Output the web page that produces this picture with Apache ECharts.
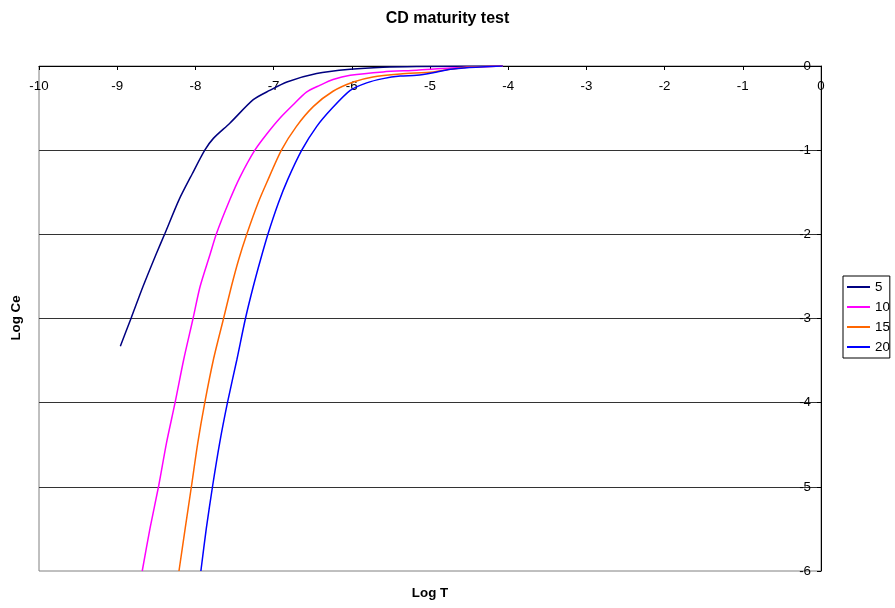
<!DOCTYPE html>
<html>
<head>
<meta charset="utf-8">
<title>CD maturity test</title>
<script src="https://cdn.jsdelivr.net/npm/echarts@6/dist/echarts.min.js"></script>
<style>
  html, body { margin: 0; padding: 0; background: #fff; }
  #chart { width: 895px; height: 608px; }
</style>
</head>
<body>
<div id="chart"></div>
<script>
// Log T / Log Ce pairs for each maturity value
const series5 = [
  [-8.96, -3.33], [-8.82, -2.99], [-8.67, -2.62], [-8.50, -2.23], [-8.39, -1.99],
  [-8.21, -1.59], [-8.04, -1.28], [-7.88, -1.00], [-7.77, -0.86], [-7.56, -0.68],
  [-7.26, -0.40], [-7.05, -0.29], [-6.83, -0.19], [-6.45, -0.09], [-6.02, -0.04],
  [-5.60, -0.015], [-5.17, -0.006], [-4.07, 0]
];
const series10 = [
  [-8.68, -6.00], [-8.58, -5.49], [-8.47, -4.99], [-8.37, -4.48], [-8.26, -4.00],
  [-8.15, -3.49], [-8.03, -3.00], [-7.94, -2.62], [-7.81, -2.23], [-7.73, -1.99],
  [-7.56, -1.59], [-7.43, -1.32], [-7.24, -1.00], [-7.09, -0.81], [-6.92, -0.62],
  [-6.75, -0.46], [-6.58, -0.31], [-6.41, -0.23], [-6.24, -0.16], [-6.02, -0.11],
  [-5.60, -0.07], [-5.17, -0.05], [-4.74, -0.024], [-4.07, 0]
];
const series15 = [
  [-8.21, -6.00], [-8.13, -5.49], [-8.05, -4.99], [-7.97, -4.48], [-7.88, -4.00],
  [-7.77, -3.49], [-7.64, -3.00], [-7.54, -2.62], [-7.45, -2.31], [-7.34, -1.99],
  [-7.20, -1.63], [-7.09, -1.39], [-6.90, -1.00], [-6.71, -0.72], [-6.49, -0.48],
  [-6.24, -0.30], [-5.98, -0.19], [-5.73, -0.13], [-5.38, -0.095], [-4.96, -0.07],
  [-4.74, -0.04], [-4.53, -0.015], [-4.07, 0]
];
const series20 = [
  [-7.93, -6.00], [-7.86, -5.49], [-7.78, -4.99], [-7.69, -4.48], [-7.59, -4.00],
  [-7.47, -3.49], [-7.36, -3.00], [-7.26, -2.62], [-7.17, -2.31], [-7.07, -1.99],
  [-6.94, -1.63], [-6.82, -1.35], [-6.64, -1.00], [-6.45, -0.72], [-6.25, -0.50],
  [-6.02, -0.29], [-5.81, -0.20], [-5.60, -0.15], [-5.38, -0.12], [-5.17, -0.11],
  [-4.96, -0.08], [-4.74, -0.04], [-4.53, -0.02], [-4.07, 0]
];

const seriesNames = ['5', '10', '15', '20'];
const seriesData = [series5, series10, series15, series20];
const seriesColors = ['#000080', '#FF00FF', '#FF6600', '#0000FF'];

const FONT = "'Liberation Sans', Arial, sans-serif";

const chart = echarts.init(document.getElementById('chart'), null, { renderer: 'canvas' });

chart.setOption({
  backgroundColor: '#ffffff',
  animation: false,
  title: {
    text: 'CD maturity test',
    left: 'center',
    top: 6,
    textStyle: { fontFamily: FONT, fontSize: 16, fontWeight: 'bold', color: '#000' }
  },
  legend: {
    orient: 'vertical',
    left: 843,
    top: 276,
    padding: [3, 0, 3, 4],
    itemGap: 4,
    itemWidth: 23,
    itemHeight: 2,
    icon: 'rect',
    borderColor: '#000',
    borderWidth: 1,
    borderRadius: 0,
    textStyle: { fontFamily: FONT, fontSize: 13.33, lineHeight: 16, color: '#000' },
    data: seriesNames
  },
  grid: {
    left: 39,
    right: 74,
    top: 66,
    bottom: 37,
    show: true,
    borderColor: '#808080',
    borderWidth: 1,
    backgroundColor: 'transparent'
  },
  xAxis: {
    type: 'value',
    position: 'top',
    min: -10,
    max: 0,
    interval: 1,
    axisLine: { show: true, onZero: false, lineStyle: { color: '#000', width: 1 } },
    axisTick: { show: true, inside: true, length: 4, lineStyle: { color: '#000' } },
    axisLabel: {
      inside: true, margin: 14, showMinLabel: true, showMaxLabel: true,
      fontFamily: FONT, fontSize: 13.33, color: '#000'
    },
    splitLine: { show: false }
  },
  yAxis: {
    type: 'value',
    position: 'right',
    min: -6,
    max: 0,
    interval: 1,
    axisLine: { show: true, onZero: false, lineStyle: { color: '#000', width: 1 } },
    axisTick: { show: true, inside: true, length: 4, lineStyle: { color: '#000' } },
    axisLabel: {
      inside: true, margin: 10, showMinLabel: true, showMaxLabel: true,
      fontFamily: FONT, fontSize: 13.33, color: '#000'
    },
    splitLine: { show: true, showMinLine: false, lineStyle: { color: '#333', width: 1 } }
  },
  graphic: [
    {
      type: 'text',
      x: 430,
      y: 593,
      style: { text: 'Log T', font: "bold 13.33px 'Liberation Sans', Arial, sans-serif", fill: '#000', align: 'center', verticalAlign: 'middle' }
    },
    {
      type: 'text',
      x: 16,
      y: 318,
      rotation: Math.PI / 2,
      style: { text: 'Log Ce', font: "bold 13.33px 'Liberation Sans', Arial, sans-serif", fill: '#000', align: 'center', verticalAlign: 'middle' }
    }
  ],
  series: seriesNames.map((name, i) => ({
    name: name,
    type: 'line',
    data: seriesData[i],
    symbol: 'none',
    smooth: 0.25,
    clip: true,
    lineStyle: { color: seriesColors[i], width: 1.5 },
    itemStyle: { color: seriesColors[i] },
    z: 3
  }))
});
</script>
</body>
</html>
